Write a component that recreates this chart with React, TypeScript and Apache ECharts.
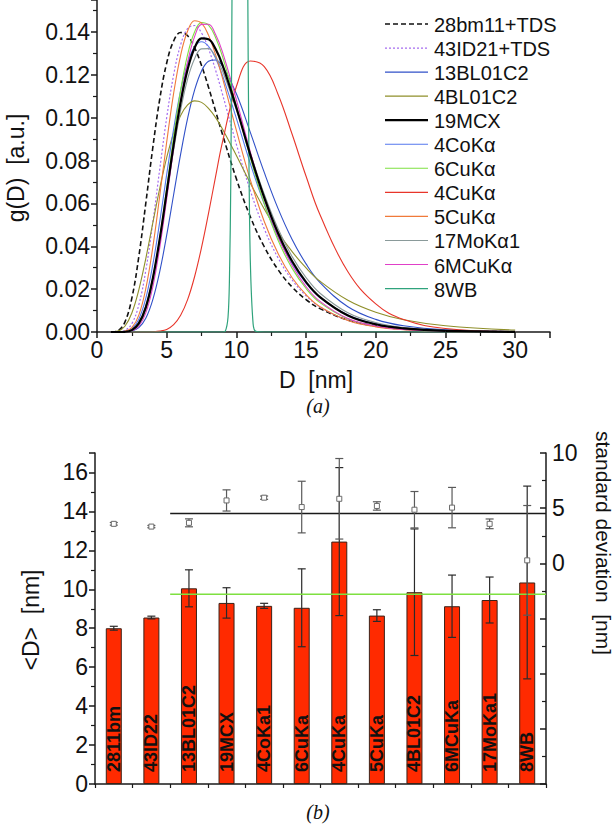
import React, { useEffect, useRef } from "react";
import * as echarts from "echarts";

// ---------- Panel (a): size distributions g(D) ----------
const dValues = [1, 1.5, 2, 2.5, 3, 3.5, 4, 4.5, 5, 5.5, 6, 6.5, 7, 7.5, 8, 8.5, 9, 10, 11, 12, 13, 14, 15, 16, 18, 20, 22, 25, 30];

const g28bm11TDS = [0.0000, 0.0006, 0.0046, 0.0158, 0.0352, 0.0601, 0.0859, 0.1087, 0.1256, 0.1359, 0.1398, 0.1383, 0.1328, 0.1244, 0.1143, 0.1033, 0.0923, 0.0715, 0.0538, 0.0398, 0.0290, 0.0210, 0.0151, 0.0109, 0.0056, 0.0029, 0.0015, 0.0006, 0.0001];
const g43ID21TDS = [0, 0.0000, 0.0007, 0.0039, 0.0127, 0.0287, 0.0509, 0.0760, 0.1001, 0.1201, 0.1341, 0.1416, 0.1431, 0.1396, 0.1322, 0.1224, 0.1111, 0.0876, 0.0660, 0.0482, 0.0345, 0.0243, 0.0169, 0.0117, 0.0055, 0.0026, 0.0012, 0.0004, 0.0001];
const g13BL01C2 = [0, 0, 0.0000, 0.0004, 0.0020, 0.0064, 0.0150, 0.0282, 0.0452, 0.0642, 0.0830, 0.0997, 0.1129, 0.1219, 0.1264, 0.1270, 0.1241, 0.1112, 0.0932, 0.0745, 0.0575, 0.0432, 0.0318, 0.0231, 0.0118, 0.0059, 0.0029, 0.0010, 0.0002];
const g4BL01C2 = [0.0000, 0.0004, 0.0027, 0.0089, 0.0197, 0.0343, 0.0508, 0.0670, 0.0814, 0.0930, 0.1011, 0.1060, 0.1079, 0.1072, 0.1044, 0.1002, 0.0948, 0.0824, 0.0695, 0.0574, 0.0466, 0.0375, 0.0299, 0.0237, 0.0148, 0.0092, 0.0057, 0.0029, 0.0009];
const g19MCX = [0, 0, 0.0001, 0.0009, 0.0040, 0.0115, 0.0249, 0.0435, 0.0653, 0.0875, 0.1073, 0.1226, 0.1326, 0.1371, 0.1367, 0.1322, 0.1247, 0.1047, 0.0827, 0.0627, 0.0460, 0.0330, 0.0233, 0.0163, 0.0077, 0.0036, 0.0017, 0.0005, 0.0001];
const g4CoKa = [0, 0, 0.0002, 0.0015, 0.0060, 0.0157, 0.0313, 0.0514, 0.0736, 0.0948, 0.1127, 0.1256, 0.1331, 0.1355, 0.1334, 0.1279, 0.1198, 0.0997, 0.0786, 0.0597, 0.0441, 0.0319, 0.0228, 0.0161, 0.0079, 0.0038, 0.0018, 0.0006, 0.0001];
const g6CuKa = [0, 0, 0.0001, 0.0007, 0.0034, 0.0106, 0.0241, 0.0436, 0.0671, 0.0912, 0.1128, 0.1295, 0.1401, 0.1445, 0.1433, 0.1376, 0.1287, 0.1056, 0.0814, 0.0599, 0.0427, 0.0297, 0.0203, 0.0137, 0.0061, 0.0027, 0.0012, 0.0003, 0.0001];
const g4CuKa = [0, 0, 0, 0, 0, 0, 0.0001, 0.0004, 0.0012, 0.0034, 0.0078, 0.0151, 0.0258, 0.0395, 0.0554, 0.0723, 0.0886, 0.1146, 0.1265, 0.1239, 0.1108, 0.0923, 0.0727, 0.0547, 0.0281, 0.0131, 0.0058, 0.0016, 0.0002];
const g5CuKa = [0, 0, 0.0003, 0.0020, 0.0079, 0.0202, 0.0394, 0.0635, 0.0887, 0.1115, 0.1292, 0.1405, 0.1453, 0.1442, 0.1386, 0.1296, 0.1186, 0.0941, 0.0710, 0.0516, 0.0365, 0.0253, 0.0174, 0.0118, 0.0054, 0.0024, 0.0011, 0.0003, 0.0001];
const g17MoKa1 = [0, 0, 0.0001, 0.0010, 0.0044, 0.0121, 0.0253, 0.0433, 0.0640, 0.0850, 0.1036, 0.1181, 0.1276, 0.1322, 0.1323, 0.1285, 0.1220, 0.1038, 0.0834, 0.0643, 0.0481, 0.0352, 0.0254, 0.0181, 0.0090, 0.0044, 0.0021, 0.0007, 0.0001];
const g6MCuKa = [0, 0, 0.0000, 0.0005, 0.0027, 0.0089, 0.0210, 0.0393, 0.0620, 0.0860, 0.1082, 0.1259, 0.1379, 0.1436, 0.1437, 0.1390, 0.1308, 0.1084, 0.0841, 0.0622, 0.0445, 0.0310, 0.0212, 0.0143, 0.0063, 0.0028, 0.0012, 0.0003, 0.0001];

const dValues8WB = [1, 9, 9.2, 9.4, 9.5, 9.6, 9.7, 9.8, 10, 10.24, 10.5, 10.7, 10.8, 10.9, 11, 11.2, 11.4, 12, 30];
const g8WB = [0, 0, 0.0003, 0.0069, 0.024, 0.071, 0.175, 0.368, 1.0, 1.5, 0.93, 0.354, 0.18, 0.081, 0.033, 0.0038, 0.0003, 0, 0];

const xTicksA = [0, 5, 10, 15, 20, 25, 30];

// ---------- Panel (b): mean size and standard deviation ----------
const categories = ["2811bm", "43ID22", "13BL01C2", "19MCX", "4CoKa1", "6CuKa", "4CuKa", "5CuKa", "4BL01C2", "6MCuKa", "17MoKa1", "8WB"];
const meanD = [8.0, 8.55, 10.05, 9.3, 9.15, 9.05, 12.45, 8.65, 9.85, 9.13, 9.45, 10.35];
const meanDErr = [0.1, 0.07, 0.95, 0.78, 0.13, 2.0, 3.8, 0.3, 3.25, 1.6, 1.18, 4.95];
const stdDev = [3.58, 3.33, 3.67, 5.7, 5.95, 5.1, 5.85, 5.2, 4.86, 5.05, 3.58, 0.27];
const stdDevErr = [0.12, 0.1, 0.36, 0.96, 0.15, 2.34, 3.65, 0.38, 1.65, 1.83, 0.44, 4.97];
const averagedFrom = 2; // horizontal averages drawn over samples 3..12

const FONT = "'Liberation Sans', Arial, Helvetica, sans-serif";
const SERIF = "'Liberation Serif', 'Times New Roman', serif";

function avg(a: number[]) {
  return a.reduce((s, v) => s + v, 0) / a.length;
}

export default function App() {
  const ref = useRef<HTMLDivElement>(null);

  useEffect(() => {
    if (!ref.current) return;
    const chart = echarts.init(ref.current, undefined, { renderer: "svg" });

    const pair = (xs: number[], ys: number[]) => xs.map((x, i) => [x, ys[i]]);

    const curves = [
      { name: "28bm11+TDS", xs: dValues, data: g28bm11TDS, color: "#111111", width: 1.6, dash: [5, 3] },
      { name: "43ID21+TDS", xs: dValues, data: g43ID21TDS, color: "#a56cf0", width: 1.2, dash: [2, 2] },
      { name: "13BL01C2", xs: dValues, data: g13BL01C2, color: "#3050c8", width: 1.1, dash: null },
      { name: "4BL01C2", xs: dValues, data: g4BL01C2, color: "#8f8f2a", width: 1.1, dash: null },
      { name: "19MCX", xs: dValues, data: g19MCX, color: "#000000", width: 2.2, dash: null },
      { name: "4CoKα", xs: dValues, data: g4CoKa, color: "#5577ee", width: 1.1, dash: null },
      { name: "6CuKα", xs: dValues, data: g6CuKa, color: "#7ee040", width: 1.1, dash: null },
      { name: "4CuKα", xs: dValues, data: g4CuKa, color: "#e8352a", width: 1.1, dash: null },
      { name: "5CuKα", xs: dValues, data: g5CuKa, color: "#f07a3a", width: 1.1, dash: null },
      { name: "17MoKα1", xs: dValues, data: g17MoKa1, color: "#8a9a9a", width: 1.1, dash: null },
      { name: "6MCuKα", xs: dValues, data: g6MCuKa, color: "#e040c8", width: 1.1, dash: null },
      { name: "8WB", xs: dValues8WB, data: g8WB, color: "#2fa37c", width: 1.2, dash: null },
    ];

    const lineSeries: any[] = curves.map((c) => ({
      name: c.name,
      type: "line",
      xAxisIndex: 0,
      yAxisIndex: 0,
      data: pair(c.xs, c.data),
      smooth: c.name === "8WB" ? 0.3 : 0.4,
      symbol: "none",
      lineStyle: { color: c.color, width: c.width, type: c.dash ? c.dash : "solid" },
      clip: true,
      z: c.name === "19MCX" ? 4 : 3,
    }));

    // Legend drawn as graphic lines + text (keeps dash styles exact)
    const legendGraphics: any[] = [];
    curves.forEach((c, i) => {
      const y = 24 + i * 24.05;
      legendGraphics.push({
        type: "line",
        shape: { x1: 385, y1: y, x2: 428, y2: y },
        style: { stroke: c.color, lineWidth: c.width, lineDash: c.dash || null },
      });
      legendGraphics.push({
        type: "text",
        x: 434,
        y: y + 1,
        style: { text: c.name, fontSize: 20, fontFamily: FONT, fill: "#111", textAlign: "left", textVerticalAlign: "middle" },
      });
    });

    const meanDAvg = avg(meanD.slice(averagedFrom));
    const stdAvg = avg(stdDev.slice(averagedFrom));

    const errBar = (color: string, capHalf: number, marker: boolean) => (params: any, api: any) => {
      const x = api.value(0);
      const v = api.value(1);
      const e = api.value(2);
      const top = api.coord([x, v + e]);
      const bot = api.coord([x, v - e]);
      const mid = api.coord([x, v]);
      const st = { stroke: color, lineWidth: 1.2, fill: "none" };
      const children: any[] = [
        { type: "line", shape: { x1: top[0], y1: top[1], x2: bot[0], y2: bot[1] }, style: st },
        { type: "line", shape: { x1: top[0] - capHalf, y1: top[1], x2: top[0] + capHalf, y2: top[1] }, style: st },
        { type: "line", shape: { x1: bot[0] - capHalf, y1: bot[1], x2: bot[0] + capHalf, y2: bot[1] }, style: st },
      ];
      if (marker) {
        children.push({
          type: "rect",
          shape: { x: mid[0] - 2.5, y: mid[1] - 2.5, width: 5, height: 5 },
          style: { fill: "#ffffff", stroke: "#6a6a6a", lineWidth: 1 },
        });
      }
      return { type: "group", children };
    };

    const axisLineStyle = { color: "#1a1a1a", width: 1.5 };
    const minorStyle = { color: "#1a1a1a", width: 1.2 };
    const tickLabel = { fontSize: 23, color: "#111", fontFamily: FONT };

    const option: any = {
      animation: false,
      backgroundColor: "#ffffff",
      textStyle: { fontFamily: FONT },
      grid: [
        { left: 97, top: 0, width: 453, height: 332, containLabel: false },
        { left: 95, top: 453, width: 451, height: 331, containLabel: false },
      ],
      xAxis: [
        {
          type: "value",
          gridIndex: 0,
          min: 0,
          max: 32.5,
          interval: 5,
          axisLine: { onZero: false, lineStyle: axisLineStyle },
          axisTick: { length: 6, lineStyle: axisLineStyle },
          minorTick: { show: true, splitNumber: 2, length: 4, lineStyle: minorStyle },
          splitLine: { show: false },
          axisLabel: {
            ...tickLabel,
            margin: 6,
            showMaxLabel: false,
            formatter: (v: number) => (xTicksA.includes(v) ? String(v) : ""),
          },
        },
        {
          type: "category",
          gridIndex: 1,
          data: categories,
          position: "bottom",
          axisLine: { onZero: false, lineStyle: axisLineStyle },
          axisTick: { alignWithLabel: true, length: 7, lineStyle: axisLineStyle },
          axisLabel: { show: false },
        },
        {
          type: "value",
          gridIndex: 1,
          min: 0,
          max: 12,
          interval: 1,
          position: "bottom",
          axisLine: { show: false, onZero: false },
          axisTick: { length: 4, lineStyle: minorStyle },
          axisLabel: { show: false },
          splitLine: { show: false },
        },
      ],
      yAxis: [
        {
          type: "value",
          gridIndex: 0,
          min: 0,
          max: 0.155,
          interval: 0.02,
          axisLine: { show: true, onZero: false, lineStyle: axisLineStyle },
          axisTick: { show: true, length: 6, lineStyle: axisLineStyle },
          minorTick: { show: true, splitNumber: 2, length: 4, lineStyle: minorStyle },
          splitLine: { show: false },
          axisLabel: { ...tickLabel, margin: 7, showMaxLabel: false, formatter: (v: number) => v.toFixed(2) },
        },
        {
          type: "value",
          gridIndex: 1,
          min: 0,
          max: 17,
          interval: 2,
          axisLine: { show: true, onZero: false, lineStyle: axisLineStyle },
          axisTick: { show: true, length: 6, lineStyle: axisLineStyle },
          minorTick: { show: true, splitNumber: 2, length: 4, lineStyle: minorStyle },
          splitLine: { show: false },
          axisLabel: { ...tickLabel, margin: 7, showMaxLabel: false },
        },
        {
          type: "value",
          gridIndex: 1,
          position: "right",
          min: -20,
          max: 10,
          interval: 5,
          axisLine: { show: true, onZero: false, lineStyle: axisLineStyle },
          axisTick: { show: true, inside: true, length: 6, lineStyle: axisLineStyle },
          minorTick: { show: true, splitNumber: 2, length: 4, lineStyle: minorStyle },
          splitLine: { show: false },
          axisLabel: { ...tickLabel, margin: 6, formatter: (v: number) => (v >= 0 ? String(v) : "") },
        },
      ],
      series: [
        ...lineSeries,
        {
          name: "meanD",
          type: "bar",
          xAxisIndex: 1,
          yAxisIndex: 1,
          data: meanD,
          barWidth: 16,
          itemStyle: { color: "#ff2a00", borderColor: "#3a2218", borderWidth: 1 },
          label: {
            show: true,
            position: "insideBottom",
            rotate: 90,
            align: "left",
            verticalAlign: "middle",
            distance: 12,
            formatter: (p: any) => categories[p.dataIndex],
            fontSize: 18,
            fontWeight: "bold",
            color: "#111",
            fontFamily: FONT,
          },
          z: 2,
        },
        {
          name: "meanDErr",
          type: "custom",
          xAxisIndex: 1,
          yAxisIndex: 1,
          data: meanD.map((v, i) => [i, v, meanDErr[i]]),
          encode: { x: 0, y: 1 },
          renderItem: errBar("#2a2a2a", 4, false),
          z: 4,
        },
        {
          name: "meanDAvg",
          type: "line",
          xAxisIndex: 2,
          yAxisIndex: 1,
          data: [[averagedFrom, meanDAvg], [categories.length, meanDAvg]],
          symbol: "none",
          lineStyle: { color: "#7ee040", width: 1.6 },
          z: 5,
        },
        {
          name: "stdAvg",
          type: "line",
          xAxisIndex: 2,
          yAxisIndex: 2,
          data: [[averagedFrom, stdAvg], [categories.length, stdAvg]],
          symbol: "none",
          lineStyle: { color: "#1a1a1a", width: 1.6 },
          z: 5,
        },
        {
          name: "stdDev",
          type: "custom",
          xAxisIndex: 1,
          yAxisIndex: 2,
          data: stdDev.map((v, i) => [i, v, stdDevErr[i]]),
          encode: { x: 0, y: 1 },
          renderItem: errBar("#5a5a5a", 4, true),
          z: 6,
        },
      ],
      graphic: [
        ...legendGraphics,
        {
          type: "text",
          x: 16,
          y: 168,
          rotation: Math.PI / 2,
          style: { text: "g(D)  [a.u.]", fontSize: 23, fontFamily: FONT, fill: "#111", textAlign: "center", textVerticalAlign: "middle" },
        },
        {
          type: "text",
          x: 316,
          y: 380,
          style: { text: "D  [nm]", fontSize: 23, fontFamily: FONT, fill: "#111", textAlign: "center", textVerticalAlign: "middle" },
        },
        {
          type: "text",
          x: 318,
          y: 406,
          style: { text: "(a)", fontSize: 20, fontStyle: "italic", fontFamily: SERIF, fill: "#111", textAlign: "center", textVerticalAlign: "middle" },
        },
        {
          type: "text",
          x: 31,
          y: 620,
          rotation: Math.PI / 2,
          style: { text: "<D>  [nm]", fontSize: 23, fontFamily: FONT, fill: "#111", textAlign: "center", textVerticalAlign: "middle" },
        },
        {
          type: "text",
          x: 603,
          y: 543,
          rotation: -Math.PI / 2,
          style: { text: "standard deviation  [nm]", fontSize: 21, fontFamily: FONT, fill: "#111", textAlign: "center", textVerticalAlign: "middle" },
        },
        {
          type: "text",
          x: 318,
          y: 812,
          style: { text: "(b)", fontSize: 20, fontStyle: "italic", fontFamily: SERIF, fill: "#111", textAlign: "center", textVerticalAlign: "middle" },
        },
      ],
    };

    chart.setOption(option);
    return () => chart.dispose();
  }, []);

  return <div ref={ref} style={{ width: 614, height: 824, position: "absolute", left: 0, top: 0 }} />;
}
